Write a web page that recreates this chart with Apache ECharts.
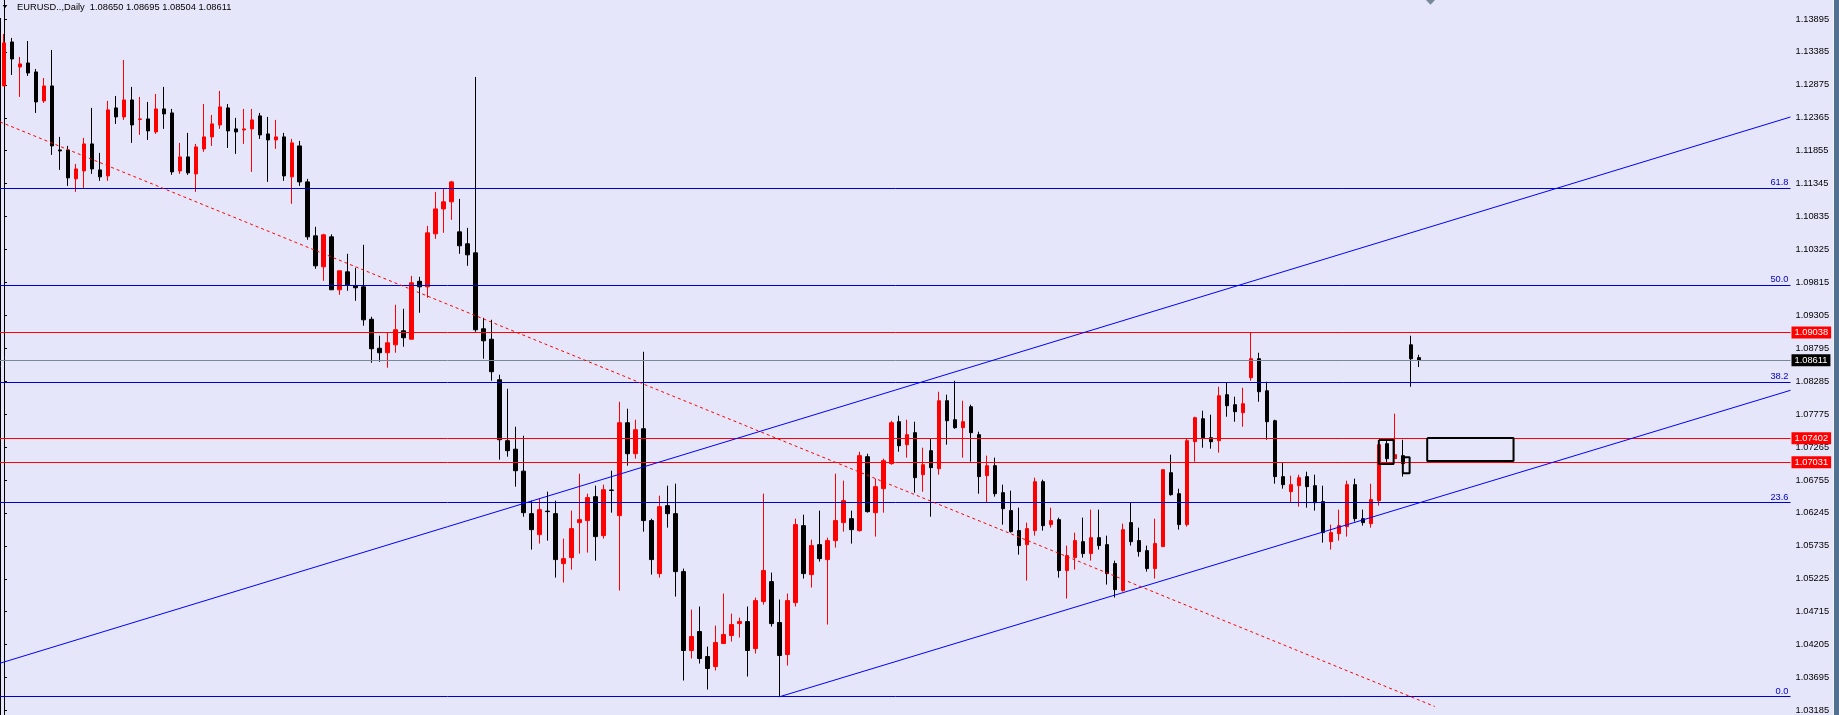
<!DOCTYPE html>
<html>
<head>
<meta charset="utf-8">
<script src="https://cdn.jsdelivr.net/npm/echarts@6.0.0/dist/echarts.min.js"></script>
<style>
html,body{margin:0;padding:0;background:#E6E6FA;overflow:hidden;}
#chart{width:1839px;height:715px;}
</style>
</head>
<body>
<div id="chart"></div>
<script>
// ---- Daily candles (EURUSD) ----
const opens = [1.12858,1.13539,1.13152,1.13214,1.13075,1.12626,1.12858,1.11867,1.11867,1.11419,
1.11542,1.11960,1.11558,1.11465,1.12518,1.12378,1.12641,1.12340,1.12347,1.12146,
1.12502,1.12440,1.11542,1.11759,1.11496,1.11883,1.12069,1.12254,1.12518,1.12193,
1.12177,1.12193,1.12394,1.12115,1.12022,1.12069,1.11450,1.11929,1.11372,1.10536,
1.10057,1.10521,1.09701,1.09979,1.09763,1.09747,1.09244,1.08795,1.08726,1.08849,
1.09066,1.08935,1.09832,1.09747,1.10567,1.10954,1.11063,1.10598,1.10413,1.10273,
1.09097,1.08935,1.08308,1.07364,1.07232,1.06892,1.06234,1.05909,1.06273,1.06234,
1.05460,1.05553,1.06095,1.06126,1.06497,1.05893,1.06600,1.06203,1.07642,1.07162,
1.07549,1.06126,1.05305,1.06358,1.06234,1.05336,1.04114,1.04408,1.04021,1.03866,
1.04222,1.04346,1.04531,1.04562,1.04144,1.04872,1.05181,1.04547,1.04052,1.04856,
1.06048,1.05290,1.05754,1.05522,1.05816,1.06095,1.06156,1.05971,1.07116,1.06249,
1.06621,1.07008,1.07658,1.07302,1.07488,1.06837,1.07209,1.06930,1.07983,1.07689,
1.07565,1.07890,1.07457,1.06822,1.06977,1.06559,1.06281,1.05971,1.05754,1.05971,
1.06729,1.06064,1.06141,1.05352,1.05553,1.05800,1.05615,1.05862,1.05754,1.05460,
1.05042,1.06095,1.05816,1.05661,1.05383,1.05723,1.06868,1.06543,1.06064,1.07348,
1.07704,1.07410,1.07364,1.08076,1.07921,1.07797,1.08339,1.08633,1.08137,1.07673,
1.06807,1.06574,1.06667,1.06807,1.06667,1.06420,1.05800,1.05924,1.06033,1.06683,
1.06156,1.06079,1.06435,1.07317,1.07085,1.07132,1.08849,1.08650];
const highs = [1.13663,1.13601,1.13307,1.13554,1.13121,1.12982,1.13415,1.12069,1.11929,1.11651,
1.12053,1.12518,1.11821,1.12626,1.12703,1.13260,1.12843,1.12688,1.12610,1.12734,
1.12843,1.12502,1.11976,1.12131,1.11960,1.12579,1.12409,1.12781,1.12579,1.12363,
1.12502,1.12502,1.12440,1.12378,1.12332,1.12131,1.12038,1.12007,1.11419,1.10676,
1.10567,1.10560,1.09995,1.10258,1.10041,1.10397,1.09283,1.08989,1.09035,1.09469,
1.09407,1.09917,1.09902,1.10691,1.11217,1.11264,1.11388,1.11109,1.10660,1.12997,
1.09267,1.09236,1.08385,1.08168,1.07580,1.07441,1.06435,1.06466,1.06574,1.06435,
1.05847,1.06281,1.06853,1.06543,1.06667,1.06683,1.06899,1.07967,1.07859,1.07689,
1.08741,1.06156,1.06512,1.06667,1.06698,1.05383,1.04748,1.04795,1.04175,1.04500,
1.04996,1.04686,1.04624,1.04795,1.04934,1.06543,1.05321,1.04903,1.04996,1.06156,
1.06218,1.05831,1.06281,1.05862,1.06853,1.06745,1.06281,1.07193,1.07162,1.06776,
1.07085,1.07673,1.07751,1.07689,1.07658,1.07255,1.07395,1.08122,1.08076,1.08292,
1.07983,1.07921,1.07503,1.07132,1.07101,1.06683,1.06590,1.06327,1.06095,1.06791,
1.06760,1.06327,1.06172,1.05739,1.05940,1.06172,1.06296,1.06296,1.05893,1.05506,
1.06079,1.06404,1.06017,1.05739,1.06156,1.06915,1.07147,1.06621,1.07395,1.07735,
1.07828,1.07766,1.08199,1.08261,1.08045,1.08184,1.09045,1.08726,1.08277,1.07689,
1.07023,1.06822,1.06837,1.06884,1.06837,1.06667,1.06064,1.06296,1.06745,1.06776,
1.06296,1.06698,1.07302,1.07379,1.07782,1.07379,1.08989,1.08695];
const lows = [1.12858,1.13028,1.12688,1.13013,1.12440,1.12595,1.11790,1.11558,1.11310,1.11217,
1.11279,1.11496,1.11388,1.11388,1.12270,1.12332,1.11976,1.12100,1.12022,1.12115,
1.12193,1.11481,1.11496,1.11481,1.11217,1.11837,1.11929,1.12193,1.11898,1.11806,
1.11960,1.11527,1.12038,1.11372,1.11883,1.11388,1.11032,1.11310,1.10475,1.10026,
1.09840,1.09701,1.09623,1.09685,1.09530,1.09144,1.08571,1.08586,1.08494,1.08726,
1.08819,1.08935,1.09345,1.09577,1.10490,1.10583,1.10784,1.10258,1.10072,1.09051,
1.08633,1.08292,1.07070,1.07116,1.06652,1.06187,1.05677,1.05770,1.05816,1.05243,
1.05166,1.05367,1.05615,1.05630,1.05506,1.05847,1.06249,1.05042,1.06977,1.07085,
1.05955,1.05290,1.05243,1.06017,1.04949,1.03649,1.03990,1.03912,1.03510,1.03804,
1.04222,1.04253,1.04315,1.03711,1.04067,1.04825,1.04485,1.03397,1.03881,1.04795,
1.05228,1.05089,1.05491,1.04516,1.05708,1.05955,1.05770,1.05955,1.06249,1.05878,
1.06249,1.06992,1.07193,1.07101,1.06559,1.06574,1.06187,1.06837,1.07302,1.07549,
1.07101,1.07039,1.06543,1.06404,1.06497,1.06064,1.05940,1.05599,1.05197,1.05893,
1.05971,1.06017,1.05243,1.04918,1.05367,1.05553,1.05506,1.05677,1.05135,1.04934,
1.05027,1.05739,1.05568,1.05336,1.05228,1.05723,1.06512,1.05986,1.06033,1.07039,
1.07255,1.07240,1.07178,1.07735,1.07658,1.07580,1.08292,1.07967,1.07379,1.06698,
1.06621,1.06404,1.06342,1.06327,1.06281,1.05785,1.05677,1.05816,1.05878,1.06110,
1.06048,1.06017,1.06358,1.07008,1.07085,1.06807,1.08199,1.08504];
const closes = [1.13524,1.13276,1.13199,1.13059,1.12610,1.12858,1.11929,1.11852,1.11434,1.11573,
1.11960,1.11573,1.11450,1.12487,1.12378,1.12641,1.12254,1.12347,1.12162,1.12502,
1.12425,1.11527,1.11759,1.11512,1.11914,1.12069,1.12270,1.12533,1.12162,1.12146,
1.12193,1.12332,1.12100,1.12022,1.12069,1.11465,1.11976,1.11372,1.10521,1.10072,
1.10552,1.09701,1.09995,1.09778,1.09732,1.09236,1.08788,1.08726,1.08880,1.09082,
1.08958,1.09809,1.09747,1.10583,1.10954,1.11063,1.11372,1.10382,1.10242,1.09082,
1.08911,1.08432,1.07379,1.07209,1.06899,1.06249,1.05986,1.06296,1.06265,1.05522,
1.05537,1.06002,1.06141,1.06482,1.05878,1.06605,1.06594,1.07642,1.07162,1.07534,
1.06126,1.05522,1.06342,1.06234,1.05336,1.04114,1.04330,1.03990,1.03835,1.04237,
1.04361,1.04516,1.04562,1.04114,1.04887,1.05352,1.04531,1.04036,1.04887,1.06064,
1.05305,1.05739,1.05537,1.05816,1.06126,1.06435,1.05986,1.07132,1.06265,1.06652,
1.07054,1.07642,1.07286,1.07457,1.06791,1.06992,1.06946,1.07983,1.07673,1.07565,
1.07658,1.07488,1.06807,1.06977,1.06543,1.06311,1.05955,1.05739,1.06002,1.06729,
1.06048,1.06126,1.05352,1.05584,1.05816,1.05615,1.05862,1.05739,1.05305,1.05058,
1.05986,1.05800,1.05646,1.05383,1.05770,1.06915,1.06528,1.06064,1.07364,1.07720,
1.07410,1.07348,1.08060,1.07905,1.07813,1.07936,1.08633,1.08122,1.07658,1.06807,
1.06683,1.06683,1.06791,1.06652,1.06404,1.05940,1.05940,1.06048,1.06683,1.06156,
1.06095,1.06451,1.07302,1.07085,1.07147,1.07008,1.08633,1.08611];

// ---- price axis tick labels ----
const tickLabels = [1.03185,1.03695,1.04205,1.04715,1.05225,1.05735,1.06245,1.06755,1.07265,1.07775,
1.08285,1.08795,1.09305,1.09815,1.10325,1.10835,1.11345,1.11855,1.12365,1.12875,1.13385,1.13895];

// ---- horizontal levels ----
const fibNames  = ['61.8','50.0','38.2','23.6','0.0'];
const fibPrices = [1.11275, 1.09778, 1.08272, 1.06404, 1.03400];
const redLevels = [1.09038, 1.07402, 1.07031];
const bidPrice  = 1.08611;

// ---- trend lines: [barIndex, price] anchor pairs ----
const upperChannel = [[-0.5, 1.03917], [223.5, 1.12377]];
const lowerChannel = [[97, 1.03397], [223.5, 1.08144]];
const redTrend     = [[-0.5, 1.12301], [179, 1.03247]];

// ---- rectangles: [barFrom, barTo, priceTop, priceBottom] ----
const rects = [
  [172.0, 173.85, 1.07375, 1.07003],
  [175.0, 175.85, 1.07106, 1.06859],
  [178.05, 188.85, 1.07405, 1.07050]
];

const titleText = 'EURUSD..,Daily  1.08650 1.08695 1.08504 1.08611';
const SLOTS = 224;
const FONT = '"Liberation Sans", Arial, sans-serif';
const FS = 9.3;

const slotNames = Array.from({length: SLOTS}, (_, i) => String(i));
const candleData = opens.map((o, i) => [o, closes[i], lows[i], highs[i]]);

const markData = [];
fibPrices.forEach((p, k) => {
  markData.push({
    yAxis: p,
    lineStyle: {color: '#0000CD', width: 1, type: 'solid'},
    label: {show: true, position: 'insideEndTop', formatter: fibNames[k], color: '#0000CD',
            fontFamily: FONT, fontSize: FS, distance: [2, 1]}
  });
});
markData.push({
  yAxis: bidPrice,
  lineStyle: {color: '#778899', width: 1, type: 'solid'},
  label: {show: true, position: 'end', formatter: bidPrice.toFixed(5), color: '#FFFFFF',
          backgroundColor: '#000000', padding: [2, 3, 1, 3], fontFamily: FONT, fontSize: FS, distance: 1}
});
redLevels.forEach(p => {
  markData.push({
    yAxis: p,
    lineStyle: {color: '#FF0000', width: 1, type: 'solid'},
    label: {show: true, position: 'end', formatter: p.toFixed(5), color: '#FFFFFF',
            backgroundColor: '#FF0000', padding: [2, 3, 1, 3], fontFamily: FONT, fontSize: FS, distance: 1}
  });
});

function lineSeries(points, color, width, type) {
  return {
    type: 'line', xAxisIndex: 1, yAxisIndex: 0, data: points, symbol: 'none',
    silent: true, animation: false, z: 4,
    lineStyle: {color: color, width: width, type: type || 'solid'}
  };
}

const series = [{
  type: 'candlestick', xAxisIndex: 0, yAxisIndex: 0, data: candleData,
  barWidth: 4, silent: true, z: 2,
  itemStyle: {color: '#FF0000', color0: '#000000', borderColor: '#FF0000', borderColor0: '#000000', borderWidth: 1},
  markLine: {silent: true, precision: 5, symbol: ['none', 'none'], animation: false, data: markData, z: 3}
}];
series.push(lineSeries(upperChannel, '#0000FF', 1));
series.push(lineSeries(lowerChannel, '#0000FF', 1));
series.push(lineSeries(redTrend, '#FF0000', 1, [3, 3]));
rects.forEach(r => {
  const [x0, x1, top, bot] = r;
  series.push(lineSeries([[x0, top], [x1, top], [x1, bot], [x0, bot], [x0, top]], '#000000', 2));
});

const chart = echarts.init(document.getElementById('chart'), null, {renderer: 'canvas'});
chart.setOption({
  animation: false,
  backgroundColor: '#E6E6FA',
  grid: {left: -1.5, top: 0, width: 1792, height: 715, containLabel: false},
  xAxis: [
    {type: 'category', data: slotNames, boundaryGap: true, show: false},
    {type: 'value', min: -0.5, max: SLOTS - 0.5, show: false}
  ],
  yAxis: [{
    type: 'value', position: 'right', min: 1.03123, max: 1.14189,
    axisLine: {show: true, lineStyle: {color: '#000000', width: 1}},
    axisTick: {show: true, inside: false, length: 3, customValues: tickLabels, lineStyle: {color: '#000000'}},
    axisLabel: {show: true, customValues: tickLabels, formatter: v => v.toFixed(5), color: '#000000',
                fontFamily: FONT, fontSize: FS, margin: 5},
    splitLine: {show: false}
  }],
  graphic: [
    {type: 'line', shape: {x1: 0.5, y1: 18, x2: 0.5, y2: 715}, style: {stroke: '#000000', lineWidth: 1}, silent: true},
    {type: 'polygon', shape: {points: [[2.7, 5], [7.3, 5], [5, 8.3]]}, style: {fill: '#000000'}, silent: true},
    {type: 'text', x: 17, y: 7.5, style: {text: titleText, font: FS + 'px ' + FONT, fill: '#000000', verticalAlign: 'middle'}, silent: true},
    {type: 'polygon', shape: {points: [[1426, 0], [1435, 0], [1430.5, 4.7]]}, style: {fill: '#778899'}, silent: true},
    {type: 'rect', shape: {x: 1833, y: 0, width: 1, height: 715}, style: {fill: '#F4F4FF'}, silent: true},
    {type: 'rect', shape: {x: 1834, y: 0, width: 5, height: 715}, style: {fill: '#52708F'}, silent: true}
  ],
  series: series
});
</script>
</body>
</html>
